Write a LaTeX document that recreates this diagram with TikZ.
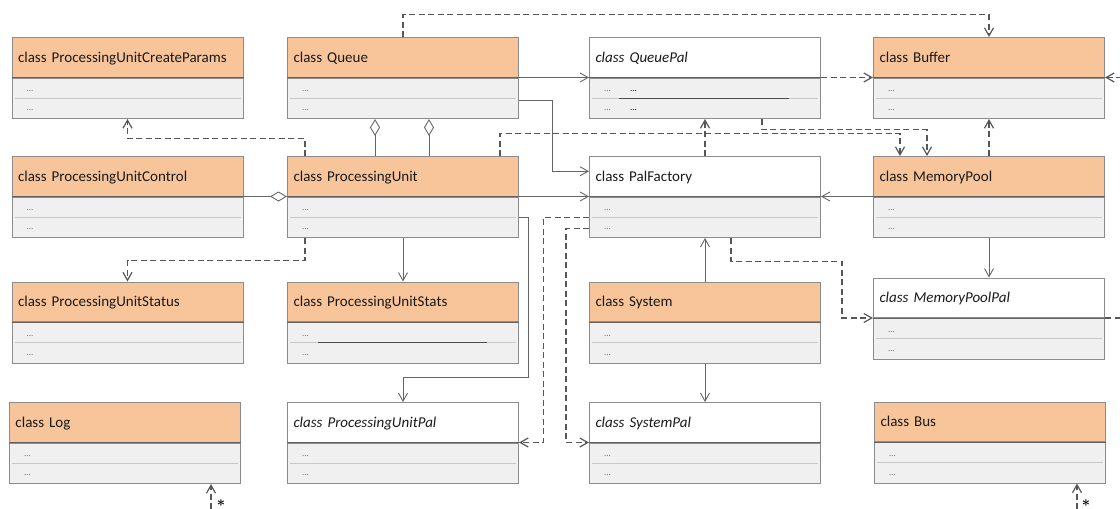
\documentclass[tikz,border=0pt]{standalone}
\usepackage{fontspec}
\setmainfont{Carlito}
\usetikzlibrary{arrows.meta}

\definecolor{hdrfill}{HTML}{F8C49A}
\definecolor{bodyfill}{HTML}{F0F0F0}
\definecolor{boxgray}{HTML}{8C8C8C}
\definecolor{linegray}{HTML}{666666}
\definecolor{rowgray}{HTML}{C8C8C8}
\definecolor{dotgray}{HTML}{6E6E6E}
\definecolor{txt}{HTML}{1A1A1A}

\tikzset{
  hdr/.style={draw=boxgray, line width=1pt, fill=hdrfill, minimum width=231pt, minimum height=39.5pt,
    text width=219pt, inner xsep=6pt, inner ysep=0pt, text height=12.5pt, text depth=3pt,
    align=left, font=\fontsize{15}{17}\selectfont, text=txt, anchor=north west},
  whitehdr/.style={hdr, fill=white},
  palhdr/.style={hdr, fill=white, font=\fontsize{15}{17}\selectfont\itshape},
  bodybox/.style={draw=boxgray, line width=1pt, fill=bodyfill, minimum width=231pt, minimum height=40.5pt,
    inner sep=0pt, anchor=north west},
  rowline/.style={rowgray, line width=0.6pt},
  dots/.style={anchor=base west, inner sep=0pt, text=dotgray, font=\fontsize{9}{10}\selectfont},
  assoc/.style={linegray, line width=0.9pt},
  dep/.style={linegray!85!black, line width=1.2pt, dash pattern=on 6pt off 3.5pt},
  agg/.style={assoc, {Diamond[open,length=17pt,width=10pt]}-},
  mult/.style={inner sep=0pt, anchor=base, font=\fontsize{15}{17}\selectfont\boldmath},
  >={Straight Barb[length=8pt,width=9pt]},
}

% one class: header, body, two rows
\newcommand{\umlclass}[4][hdr]{%
  \node[#1] (#2) at (#3) {#4};
  \node[bodybox] (#2-b) at (#2.south west) {};
  \draw[boxgray!70!black, line width=1pt] (#2.south west) -- (#2.south east);
  \draw[rowline] ([xshift=3pt]#2-b.west) -- ([xshift=-3pt]#2-b.east);
  \node[dots] (#2-r1) at ([xshift=15pt,yshift=-14pt]#2-b.north west) {...};
  \node[dots] (#2-r2) at ([xshift=15pt,yshift=-33pt]#2-b.north west) {...};
}

\begin{document}
\begin{tikzpicture}[x=1pt,y=-1pt]
\useasboundingbox (0,0) rectangle (1120,509);

% first row
\umlclass{pucp}{11.5,37}{class ProcessingUnitCreateParams}
\umlclass{queue}{287,37}{class Queue}
\umlclass[palhdr]{queuepal}{589,37}{class QueuePal}
\umlclass{buffer}{873,37}{class Buffer}

% second row
\umlclass{puctrl}{11.5,156}{class ProcessingUnitControl}
\umlclass{pu}{287,156}{class ProcessingUnit}
\umlclass[whitehdr]{palfactory}{589,156}{class PalFactory}
\umlclass{mempool}{873,156}{class MemoryPool}

% third row
\umlclass{pustatus}{11.5,281.5}{class ProcessingUnitStatus}
\umlclass{pustats}{287,281.5}{class ProcessingUnitStats}
\umlclass{system}{589,281.5}{class System}
\umlclass[palhdr]{mempoolpal}{873,277.5}{class MemoryPoolPal}

% fourth row
\umlclass{log}{9,402}{class Log}
\umlclass[palhdr]{pupal}{287,402}{class ProcessingUnitPal}
\umlclass[palhdr]{systempal}{589,402}{class SystemPal}
\umlclass{bus}{874,401.5}{class Bus}

% extra marks in two bodies
\node[dots, text=black] (queuepal-r1b) at ([xshift=41pt,yshift=-14pt]queuepal-b.north west) {...};
\node[dots, text=black] (queuepal-r2b) at ([xshift=41pt,yshift=-33pt]queuepal-b.north west) {...};
\draw[black!70, line width=0.8pt] ([xshift=30pt]queuepal-b.west) -- ([xshift=200pt]queuepal-b.west);
\draw[black!70, line width=0.8pt] ([xshift=31pt]pustats-b.west) -- ([xshift=200pt]pustats-b.west);

% feet of the open ends
\coordinate (logfoot) at (211,509);
\coordinate (busfoot) at (1077,509);

% associations
\draw[assoc,->] (queue.south east) -- (queuepal.south west);
\draw[assoc,->] ([yshift=-2pt]queue-b.east) -- ++(33,0) |- ([yshift=5pt]palfactory.west);
\draw[assoc,->] (pu.south east) -- (palfactory.south west);
\draw[assoc,->] (mempool.south west) -- (palfactory.south east);
\draw[assoc,->] (mempool-b.south) -- (mempoolpal.north);
\draw[assoc,->] (pu-b.south) -- (pustats.north);
\draw[assoc,->] (pu-b.east) -- ++(9,0) -- ++(0,160) -| (pupal.north);
\draw[assoc,->] (system.north) -- (palfactory-b.south);
\draw[assoc,->] (system-b.south) -- (systempal.north);

% aggregations
\draw[agg] (pu.south west) -- (puctrl.south east);
\draw[agg] ([xshift=88pt]queue-b.south west) -- ([xshift=88pt]pu.north west);
\draw[agg] ([xshift=142pt]queue-b.south west) -- ([xshift=142pt]pu.north west);

% dependencies
\draw[dep,->] (queue.north) -- ++(0,-22.5) -| (buffer.north);
\draw[dep,->] (queuepal.south east) -- (buffer.south west);
\draw[dep,<-] (buffer.south east) -- ++(16,0);
\draw[dep,->] ([xshift=18pt]pu.north west) -- ++(0,-17.7) -| (pucp-b.south);
\draw[dep,->] ([xshift=213pt]pu.north west) -- ++(0,-22.7) -| ([xshift=27pt]mempool.north west);
\draw[dep,->] ([xshift=173pt]queuepal-b.south west) -- ++(0,10.7) -| ([xshift=54pt]mempool.north west);
\draw[dep,->] (palfactory.north) -- (queuepal-b.south);
\draw[dep,->] (mempool.north) -- (buffer-b.south);
\draw[dep] (mempoolpal.south east) -- ++(16,0);
\draw[dep,->] ([xshift=18pt]pu-b.south west) -- ++(0,22.3) -| (pustatus.north);
\draw[dep,->] (palfactory-b.west) -- ++(-45.5,0) |- (pupal.south east);
\draw[dep,->] ([yshift=-11pt]palfactory-b.west) -- ++(-23,0) |- (systempal.south west);
\draw[dep,->] ([xshift=142pt]palfactory-b.south west) -- ++(0,23.5) -- ++(111,0) |- (mempoolpal.south west);
\draw[dep,->] (logfoot) -- (logfoot |- log-b.south);
\draw[dep,->] (busfoot) -- (busfoot |- bus-b.south);
\node[mult] (logmult) at (221,506.5) {$\ast$};
\node[mult] (busmult) at (1086,506.5) {$\ast$};

\end{tikzpicture}
\end{document}
